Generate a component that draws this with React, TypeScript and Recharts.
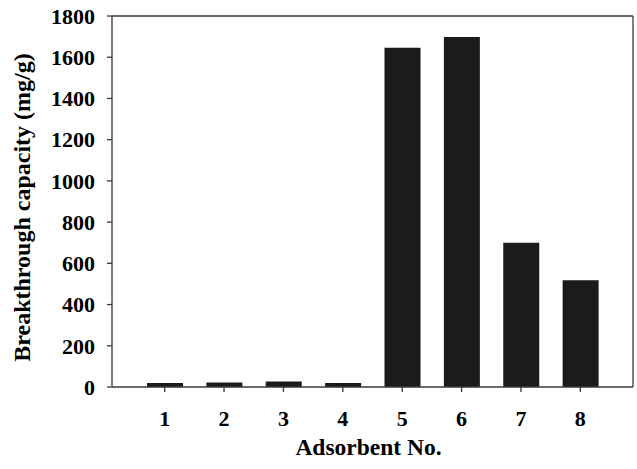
import React from 'react';
import { BarChart, Bar, XAxis, YAxis } from 'recharts';

const categories = ['1', '2', '3', '4', '5', '6', '7', '8'];
const capacity = [19, 22, 27, 19, 1646, 1698, 700, 518];
const yTicks = [0, 200, 400, 600, 800, 1000, 1200, 1400, 1600, 1800];

const data = categories.map((c, i) => ({ name: c, value: capacity[i] }));

const FONT = "'Liberation Serif', 'Times New Roman', serif";
const AXIS = '#3a3a3a';
const textStyle: React.CSSProperties = { fontFamily: FONT, fontWeight: 700, fill: '#000' };

const XTick = (props: any) => {
  const { x, y, payload } = props;
  return (
    <text x={x} y={y} dy="0.71em" textAnchor="middle" style={{ ...textStyle, fontSize: 22 }}>
      {payload.value}
    </text>
  );
};

const YTick = (props: any) => {
  const { x, y, payload } = props;
  return (
    <text x={x} y={y} dy="0.355em" textAnchor="end" style={{ ...textStyle, fontSize: 22 }}>
      {payload.value}
    </text>
  );
};

const YLabel = (props: any) => {
  const vb = props.viewBox || {};
  const x = vb.x + 21;
  const y = vb.y + vb.height / 2 + 6;
  return (
    <text
      x={x}
      y={y}
      transform={`rotate(-90, ${x}, ${y})`}
      textAnchor="middle"
      dy="0.355em"
      style={{ ...textStyle, fontSize: 24 }}
    >
      Breakthrough capacity (mg/g)
    </text>
  );
};

const XLabel = (props: any) => {
  const vb = props.viewBox || {};
  const x = vb.x + vb.width / 2 - 4;
  const y = vb.y + vb.height - 14;
  return (
    <text x={x} y={y} textAnchor="middle" style={{ ...textStyle, fontSize: 23.5 }}>
      Adsorbent No.
    </text>
  );
};

export default function App() {
  return (
    <div style={{ position: 'absolute', left: 0, top: 0, background: '#fff' }}>
      <BarChart
        width={637}
        height={469}
        data={data}
        margin={{ top: 0, right: 0, bottom: 0, left: 0 }}
      >
        <XAxis
          xAxisId="top"
          orientation="top"
          dataKey="name"
          height={16}
          tick={false}
          tickLine={false}
          axisLine={{ stroke: AXIS, strokeWidth: 1.3 }}
          padding={{ left: 23, right: 23 }}
        />
        <YAxis
          yAxisId="right"
          orientation="right"
          width={4}
          domain={[0, 1800]}
          tick={false}
          tickLine={false}
          axisLine={{ stroke: AXIS, strokeWidth: 1.3 }}
        />
        <XAxis
          dataKey="name"
          height={82}
          padding={{ left: 23, right: 23 }}
          tickSize={5}
          tickMargin={18}
          axisLine={{ stroke: AXIS, strokeWidth: 1.3 }}
          tickLine={{ stroke: AXIS, strokeWidth: 1.3 }}
          tick={<XTick />}
          interval={0}
          label={<XLabel />}
        />
        <YAxis
          width={112}
          domain={[0, 1800]}
          ticks={yTicks}
          interval={0}
          tickSize={5}
          tickMargin={12}
          axisLine={{ stroke: AXIS, strokeWidth: 1.3 }}
          tickLine={{ stroke: AXIS, strokeWidth: 1.3 }}
          tick={<YTick />}
          label={<YLabel />}
        />
        <Bar dataKey="value" fill="#1b1b1b" barSize={36} isAnimationActive={false} />
      </BarChart>
    </div>
  );
}
